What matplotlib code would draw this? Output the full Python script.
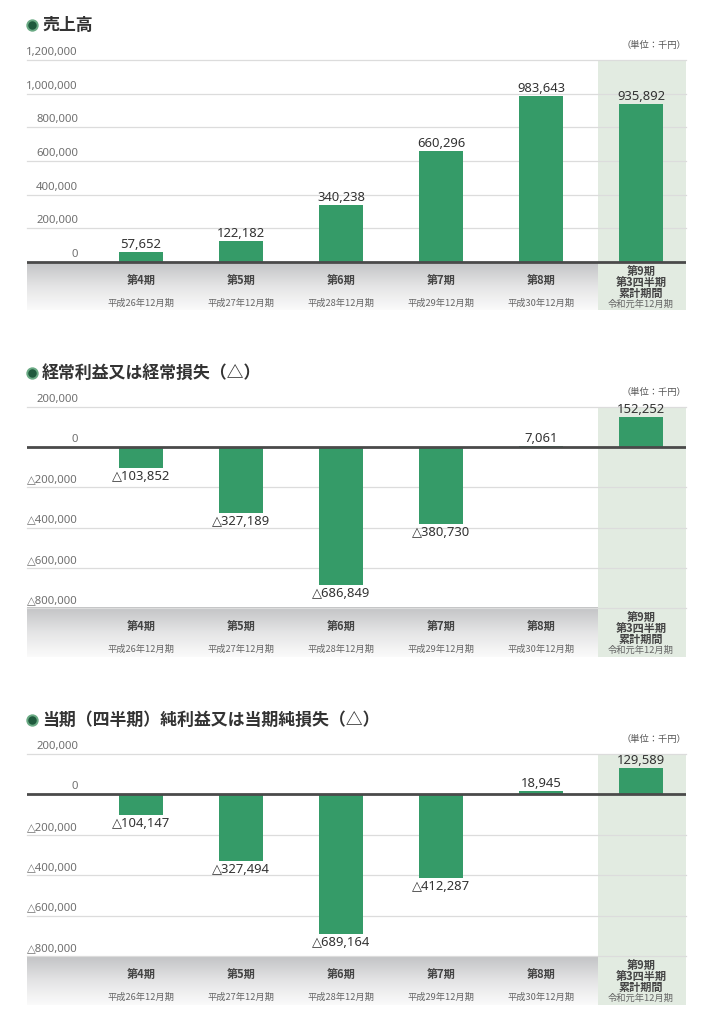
import matplotlib
matplotlib.use("Agg")
import matplotlib.pyplot as plt
import numpy as np
from matplotlib.lines import Line2D
import matplotlib.transforms as mtransforms
from matplotlib.colors import LinearSegmentedColormap

plt.rcParams['font.family'] = ['Noto Sans CJK JP', 'DejaVu Sans']
NUM_FONT = ['Noto Sans', 'DejaVu Sans', 'Noto Sans CJK JP']

# ---------------- data ----------------
categories = ['第4期', '第5期', '第6期', '第7期', '第8期', '第9期']
last_cat_lines = ['第9期', '第3四半期', '累計期間']
periods = ['平成26年12月期', '平成27年12月期', '平成28年12月期',
           '平成29年12月期', '平成30年12月期', '令和元年12月期']
sales = [57652, 122182, 340238, 660296, 983643, 935892]
ordinary = [-103852, -327189, -686849, -380730, 7061, 152252]
net = [-104147, -327494, -689164, -412287, 18945, 129589]

titles = ['売上高', '経常利益又は経常損失（△）', '当期（四半期）純利益又は当期純損失（△）']
ticks_sales = [0, 200000, 400000, 600000, 800000, 1000000, 1200000]
ticks_pl = [200000, 0, -200000, -400000, -600000, -800000]
unit_label = '（単位：千円）'

# ---------------- style ----------------
W, H = 703, 1024
BAR = '#359b68'
HILITE = '#e2ebe1'
GRID = '#dcdcdc'
ZERO = '#4a4a4a'

fig = plt.figure(figsize=(W / 100, H / 100), dpi=100)
fig.patch.set_facecolor('white')


def fmt(v):
    if v < 0:
        return '△{:,}'.format(-v)
    return '{:,}'.format(v)


def px_axes(x0, y0, x1, y1):
    return fig.add_axes([x0 / W, 1 - y1 / H, (x1 - x0) / W, (y1 - y0) / H])


panels = [
    dict(vals=sales, ticks=ticks_sales, ylim=(-285000, 1200000), band_top=0,
         top=60, bottom=310, title_y=25, unit_y=45),
    dict(vals=ordinary, ticks=ticks_pl, ylim=(-1043800, 200000), band_top=-800000,
         top=407, bottom=657, title_y=373, unit_y=392),
    dict(vals=net, ticks=ticks_pl, ylim=(-1042500, 200000), band_top=-800000,
         top=754, bottom=1005, title_y=720, unit_y=739),
]

X0, X1 = 27, 686
xlim = (-1.14, 5.45)
x = np.arange(len(categories))

grad = np.linspace(0, 1, 256).reshape(-1, 1)
band_cmap = LinearSegmentedColormap.from_list('band', ['#c2c3c5', '#e4e4e5', '#fbfbfb'])

for p, title in zip(panels, titles):
    ax = px_axes(X0, p['top'], X1, p['bottom'])
    ax.set_xlim(*xlim)
    ax.set_ylim(*p['ylim'])
    ax.set_axis_off()

    # grey gradient band
    ax.imshow(grad, cmap=band_cmap, aspect='auto', origin='upper',
              extent=(xlim[0], xlim[1], p['ylim'][0], p['band_top']), zorder=0)
    # highlighted last column
    ax.axvspan(4.57, 5.45, color=HILITE, zorder=1, lw=0)

    # grid lines and tick labels
    for t in p['ticks']:
        if t != 0:
            ax.axhline(t, color=GRID, lw=0.9, zorder=2, clip_on=False)
        ax.annotate(fmt(t), xy=(0.0774, t),
                    xycoords=mtransforms.blended_transform_factory(ax.transAxes, ax.transData),
                    xytext=(0, 2), textcoords='offset pixels',
                    ha='right', va='bottom', fontsize=8.2, color='#707070',
                    family=NUM_FONT)

    # bars
    ax.bar(x, p['vals'], width=0.44, color=BAR, zorder=3, lw=0)
    ax.axhline(0, color=ZERO, lw=2, zorder=4)

    # value labels
    for xi, v in zip(x, p['vals']):
        if v >= 0:
            ax.annotate(fmt(v), xy=(xi, v), xytext=(0, 1), textcoords='offset pixels',
                        ha='center', va='bottom', fontsize=9.4, color='#333333',
                        family=NUM_FONT)
        else:
            ax.annotate(fmt(v), xy=(xi, v), xytext=(0, -2), textcoords='offset pixels',
                        ha='center', va='top', fontsize=9.4, color='#333333',
                        family=NUM_FONT)

    # category labels in the band
    for xi, cat, per in zip(x, categories, periods):
        if xi == len(categories) - 1:
            for k, line in enumerate(last_cat_lines):
                ax.annotate(line, xy=(xi, p['band_top']), xytext=(0, -9 - 11 * k),
                            textcoords='offset pixels', ha='center', va='center',
                            fontsize=8, fontweight='bold', color='#444444')
            ax.annotate(per, xy=(xi, p['band_top']), xytext=(0, -42),
                        textcoords='offset pixels', ha='center', va='center',
                        fontsize=6.7, color='#666666')
        else:
            ax.annotate(cat, xy=(xi, p['band_top']), xytext=(0, -18),
                        textcoords='offset pixels', ha='center', va='center',
                        fontsize=8, fontweight='bold', color='#444444')
            ax.annotate(per, xy=(xi, p['band_top']), xytext=(0, -41),
                        textcoords='offset pixels', ha='center', va='center',
                        fontsize=6.7, color='#666666')

    # title with circle bullet
    fig.add_artist(Line2D([32 / W], [1 - p['title_y'] / H], marker='o', markersize=7.5,
                          markerfacecolor='#1f5a3d', markeredgecolor='#6aaa84',
                          markeredgewidth=1.4, transform=fig.transFigure))
    fig.text(42 / W, 1 - p['title_y'] / H, title, ha='left', va='center',
             fontsize=12.2, fontweight='bold', color='#333333')
    fig.text(X1 / W, 1 - p['unit_y'] / H, unit_label, ha='right', va='center',
             fontsize=6.7, color='#555555')

fig.savefig('out.png', dpi=100, facecolor='white')
